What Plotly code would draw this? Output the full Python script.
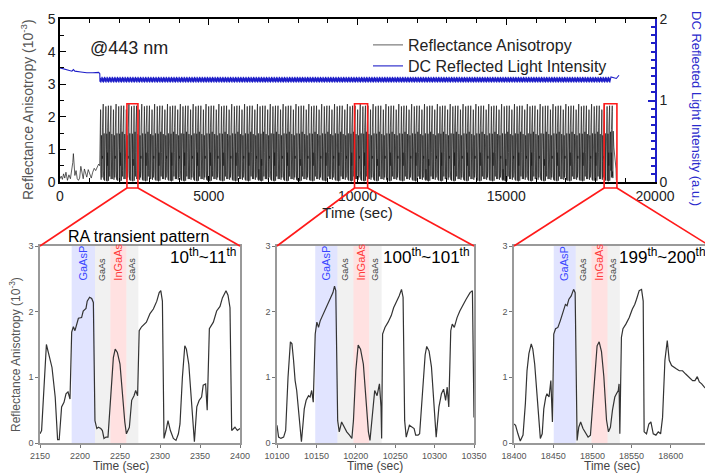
import plotly.graph_objects as go

FONT = 'Liberation Sans, Arial, sans-serif'

# ---- overview: RA before the growth cycles start (sec, 10^-3)
init_t = [0, 40, 80, 120, 160, 200, 250, 300, 350, 400, 430, 450, 470, 500, 540, 580, 620, 660,
          700, 740, 780, 820, 860, 900, 950, 1000, 1050, 1100, 1150, 1200, 1250, 1300, 1335]
init_ra = [0.10, 0.18, 0.08, 0.25, 0.12, 0.30, 0.05, 0.22, 0.10, 0.35, 0.60, 0.87, 0.55, 0.20, 0.35,
           0.10, 0.05, 0.12, 0.48, 0.25, 0.10, 0.40, 0.30, 0.15, 0.38, 0.22, 0.12, 0.30, 0.42, 0.35,
           0.48, 0.55, 0.50]
tail_t = [18665, 18690, 18700]
tail_ra = [0.80, 0.40, 0.05]

# ---- overview: DC reflected light intensity (a.u.)
dc_init_t = [0, 100, 300, 400, 450, 500, 700, 900, 1100, 1300, 1338]
dc_init = [1.40, 1.39, 1.37, 1.36, 1.38, 1.36, 1.35, 1.34, 1.34, 1.345, 1.33]
dc_cycle_frac = [0.0, 0.17, 0.33, 0.5, 0.67, 0.83]
dc_cycle = [1.23, 1.28, 1.22, 1.27, 1.24, 1.29]
dc_tail_t = [18700, 18750, 18790]
dc_tail = [1.27, 1.29, 1.31]

N_CYCLES = 200
FIRST_CYCLE = 1342
LAST_CYCLE = 18535

# ---- zoomed panels: RA transient (sec, 10^-3)
p1_t = [2150, 2152, 2158, 2162, 2165, 2169, 2172, 2174, 2177, 2180, 2182.5, 2185, 2187.5, 2189.6,
        2191.7, 2193.7, 2198, 2202, 2204, 2207.5, 2209, 2212, 2214.6, 2216.7, 2218.7, 2221, 2223,
        2226, 2228, 2230, 2232.5, 2235, 2238, 2241.7, 2244, 2246.7, 2250, 2253, 2256, 2258,
        2261.7, 2264.6, 2267.5, 2269.6, 2272, 2274, 2277, 2283, 2287.5, 2291.7, 2296, 2299, 2301,
        2303, 2305, 2307.5, 2310, 2313, 2316.7, 2320, 2323, 2325, 2328, 2331, 2333, 2336, 2339.6,
        2341.7, 2343, 2346, 2349, 2352, 2354, 2357, 2359, 2361.7, 2366.7, 2370.8, 2375, 2378,
        2382.5, 2385, 2387.5, 2389.6, 2393.7, 2396.7, 2400]
p1_ra = [0.14, 0.19, 1.50, 1.30, 1.15, 0.70, 0.05, 0.05, 0.55, 0.62, 0.75, 0.78, 0.67, 1.69,
         1.77, 1.71, 1.90, 1.91, 2.01, 2.05, 2.16, 2.22, 2.20, 2.14, 0.34, 0.22, 0.24,
         0.22, 0.19, 0.07, 0.09, 0.09, 0.62, 1.30, 1.43, 1.38, 1.20, 0.70, 0.32, 0.14,
         0.24, 0.65, 0.72, 0.80, 0.72, 1.71, 1.77, 1.84, 1.97, 2.04, 2.16, 2.29, 2.32,
         2.16, 0.07, 0.19, 0.34, 0.19, 0.07, 0.04, 0.14, 0.29, 1.00, 1.48, 1.43, 1.20, 0.55,
         0.14, 0.02, 0.55, 0.65, 0.70, 0.88, 0.90, 0.50, 1.74, 1.84, 2.01, 2.08, 2.21,
         2.32, 2.25, 2.06, 0.19, 0.24, 0.19, 0.22]

p2_t = [10100, 10102, 10105, 10108.4, 10111, 10114, 10117, 10119, 10121, 10123, 10125, 10128,
        10131, 10133, 10134.6, 10137, 10140, 10142, 10144, 10146, 10148.5, 10150.6, 10152.7,
        10154.8, 10158, 10161, 10164, 10167.5, 10171, 10173, 10174.6, 10177, 10179, 10182,
        10185, 10188.5, 10192, 10195, 10197, 10200, 10203, 10206, 10209.6, 10213, 10216, 10218,
        10221, 10224, 10227, 10230, 10232, 10232.8, 10234, 10237, 10241, 10245, 10248, 10252,
        10255, 10258, 10260, 10262, 10264, 10268, 10271, 10274, 10276, 10279, 10281, 10284,
        10288, 10290, 10293, 10296, 10299, 10302, 10305.5, 10308.7, 10311.4, 10314, 10316,
        10318, 10320.5, 10322.4, 10325, 10328.5, 10332, 10336, 10340, 10345, 10348, 10350]
p2_ra = [0.27, 0.09, 0.07, 0.09, 0.19, 1.00, 1.54, 1.51, 1.26, 0.95, 0.80, 0.45,
         0.02, 0.29, 0.52, 0.65, 0.72, 0.70, 0.80, 0.62, 1.66, 1.84, 1.76,
         1.86, 1.94, 2.04, 2.11, 2.19, 2.29, 2.39, 2.32, 0.34, 0.17, 0.32,
         0.24, 0.17, 0.12, 0.07, 0.34, 1.10, 1.49, 1.43, 1.20, 0.59, 0.17, 0.04,
         0.39, 0.80, 0.72, 0.90, 0.55, 0.07, 1.66, 1.76, 1.84, 1.94, 2.06, 2.16,
         2.24, 2.34, 2.22, 0.34, 0.09, 0.27, 0.24, 0.22, 0.12, 0.12, 0.14, 0.70,
         1.34, 1.47, 1.40, 1.16, 0.55, 0.09, 0.55, 0.75, 0.82, 0.65, 0.85,
         0.55, 1.71, 1.81, 1.76, 1.91, 2.01, 2.11, 2.19, 2.29, 2.32, 0.39]

p3_t = [18400, 18402, 18405, 18408, 18411.5, 18414.5, 18416.6, 18419, 18422, 18424, 18426.4,
        18428.5, 18430.7, 18433.6, 18436, 18438, 18440.5, 18442, 18444.7, 18447, 18449, 18450.7,
        18453, 18456, 18459, 18462.6, 18465.6, 18467.7, 18470, 18473, 18476, 18478, 18480.5,
        18482.6, 18485, 18488, 18491.6, 18494.5, 18497.5, 18500, 18503, 18506, 18508.6, 18511.6,
        18514.6, 18518, 18520.5, 18523, 18525.6, 18528.6, 18530.7, 18533, 18534, 18535, 18537,
        18539, 18542.7, 18547, 18551, 18554, 18556.3, 18559.7, 18562.7, 18564.8, 18566, 18569,
        18572, 18574.6, 18577.6, 18581, 18584, 18587, 18589.5, 18592.5, 18595.5, 18598, 18601,
        18604, 18607, 18610.8, 18615, 18619, 18623.6, 18627.8, 18630.8, 18633.8, 18636.4,
        18639.4, 18642.8, 18645.7, 18650]
p3_ra = [0.29, 0.27, 0.14, 0.03, 0.12, 0.60, 1.10, 1.36, 1.51, 1.43, 1.20,
         0.85, 0.55, 0.07, 0.14, 0.52, 0.70, 0.75, 0.70, 0.95, 0.32, 1.66,
         1.74, 1.76, 1.86, 2.01, 2.11, 2.09, 2.19, 2.24, 2.34, 2.29, 0.04,
         0.24, 0.32, 0.22, 0.14, 0.09, 0.12, 0.55, 1.10, 1.48, 1.54, 1.39,
         1.01, 0.35, 0.17, 0.24, 0.50, 0.70, 0.75, 0.80, 0.90, 0.14, 1.61,
         1.74, 1.81, 1.91, 2.04, 2.11, 2.19, 2.32, 2.34, 2.16, 0.17, 0.14,
         0.29, 0.32, 0.14, 0.12, 0.17, 0.14, 0.39, 1.26, 1.56, 1.26, 1.18,
         1.16, 1.13, 1.10, 1.10, 1.05, 1.00, 0.95, 0.95, 1.01, 0.93,
         0.90, 0.85, 0.82, 0.87]

# cycle onsets read in each zoomed panel
p1_onsets = [2189.6, 2274, 2361.7]
p2_onsets = [10148.5, 10234, 10320.5]
p3_onsets = [18450.7, 18535]

# layer windows (GaAsP, GaAs, InGaAs, GaAs) per panel
zoom_ranges = [(2150, 2400), (10100, 10350), (18400, 18650)]
box_ranges = [(2250, 2620), (9900, 10340), (18290, 18720)]
layer_names = ['GaAsP', 'GaAs', 'InGaAs', 'GaAs']
layer_fill = ['rgba(120,130,255,0.22)', 'rgba(200,200,200,0.25)', 'rgba(255,120,120,0.22)', 'rgba(200,200,200,0.25)']
layer_text = ['#3a46ff', '#444444', '#ff3b3b', '#444444']
layer_size = [11, 9, 11, 9]
layers = [
    [2189.6, 2218.7, 2238, 2258, 2273],
    [10148.5, 10176.7, 10197, 10217, 10232.8],
    [18450.7, 18478.8, 18498.8, 18519.3, 18535],
]
cycle_labels = ['10<sup>th</sup>~11<sup>th</sup>', '100<sup>th</sup>~101<sup>th</sup>',
                '199<sup>th</sup>~200<sup>th</sup>']


def cut(t, v, start, end):
    return [(a - start, b) for a, b in zip(t, v) if start <= a < end]


# build the overview series from the measured cycles
templates = [
    cut(p1_t, p1_ra, p1_onsets[0], p1_onsets[1]),
    cut(p2_t, p2_ra, p2_onsets[0], p2_onsets[1]),
    cut(p1_t, p1_ra, p1_onsets[1], p1_onsets[2]),
    cut(p3_t, p3_ra, p3_onsets[0], p3_onsets[1]),
    cut(p2_t, p2_ra, p2_onsets[1], p2_onsets[2]),
]
period = (LAST_CYCLE - FIRST_CYCLE) / (N_CYCLES - 1)

ra_t, ra_v = list(init_t), list(init_ra)
dc_t, dc_v = list(dc_init_t), list(dc_init)
for k in range(N_CYCLES - 1):
    start = FIRST_CYCLE + k * period
    for rel, val in templates[k % len(templates)]:
        if rel < period:
            ra_t.append(start + rel)
            ra_v.append(val)
    for frac, val in zip(dc_cycle_frac, dc_cycle):
        dc_t.append(start + frac * period)
        dc_v.append(val)
for rel, val in cut(p3_t, p3_ra, p3_onsets[1], 99999):
    ra_t.append(LAST_CYCLE + rel)
    ra_v.append(val)
ra_t += tail_t
ra_v += tail_ra
dc_t += dc_tail_t
dc_v += dc_tail


# the page puts the figure 8px in from the window corner; work in window pixels
def px(x):
    return (x - 8) / 713


def py(y):
    return 1 - (y - 8) / 473


TOP_X = [px(60), px(655)]
TOP_Y = [py(182), py(19)]
BOT_Y = [py(443), py(246)]
PANEL_X = [[px(40), px(240)], [px(277), px(474)], [px(514), px(710)]]

fig = go.Figure()

fig.add_trace(go.Scatter(x=ra_t, y=ra_v, mode='lines', name='Reflectance Anisotropy',
                         line=dict(color='#1a1a1a', width=0.7), xaxis='x', yaxis='y', legend='legend'))
fig.add_trace(go.Scatter(x=dc_t, y=dc_v, mode='lines', name='DC Reflected Light Intensity',
                         line=dict(color='#1e1ec8', width=1.1), xaxis='x', yaxis='y2', legend='legend2'))

panels = [(p1_t, p1_ra), (p2_t, p2_ra), (p3_t, p3_ra)]
for i, (t, v) in enumerate(panels):
    fig.add_trace(go.Scatter(x=t, y=v, mode='lines', showlegend=False,
                             line=dict(color='#333333', width=1.2),
                             xaxis='x%d' % (i + 2), yaxis='y%d' % (i + 3)))

tick_font = dict(family=FONT, size=14, color='#222')
legend_style = dict(xanchor='left', yanchor='middle', bgcolor='rgba(0,0,0,0)',
                    font=dict(family=FONT, size=16, color='#222'), itemwidth=30)
fig.update_layout(
    width=713, height=473,
    margin=dict(l=0, r=0, t=0, b=0),
    paper_bgcolor='white', plot_bgcolor='white',
    font=dict(family=FONT),
    showlegend=True,
    legend=dict(x=px(368), y=py(45), **legend_style),
    legend2=dict(x=px(368), y=py(66), **legend_style),
    xaxis=dict(domain=TOP_X, range=[0, 20000], dtick=5000, tickformat='d', tickfont=tick_font,
               showline=True, linecolor='black', linewidth=1.5, mirror='ticks',
               ticks='inside', ticklen=6, tickcolor='black', automargin=False,
               minor=dict(dtick=1000, ticks='inside', ticklen=4, tickcolor='black'),
               showgrid=False, zeroline=False, anchor='y',
               title=dict(text='Time (sec)', font=dict(family=FONT, size=15, color='#222'), standoff=0)),
    yaxis=dict(domain=TOP_Y, range=[0, 5], dtick=1, tickfont=tick_font, automargin=False,
               showline=True, linecolor='black', linewidth=1.5, mirror=True,
               ticks='inside', ticklen=6, tickcolor='black',
               minor=dict(dtick=0.5, ticks='inside', ticklen=4, tickcolor='black'),
               showgrid=False, zeroline=False, anchor='x'),
    yaxis2=dict(overlaying='y', side='right', anchor='x', range=[0, 2], dtick=1,
                tickfont=tick_font, showline=True, linecolor='#1e1ec8', linewidth=1.5,
                ticks='inside', ticklen=7, tickcolor='#1e1ec8', tickwidth=1.5, automargin=False,
                minor=dict(dtick=0.1, ticks='inside', ticklen=4, tickcolor='#1e1ec8', tickwidth=1.5),
                showgrid=False, zeroline=False),
)

small_font = dict(family=FONT, size=9, color='#555')
for i in range(3):
    xa = 'xaxis%d' % (i + 2)
    ya = 'yaxis%d' % (i + 3)
    fig.layout[xa] = dict(domain=PANEL_X[i], range=list(zoom_ranges[i]), dtick=50, tickformat='d',
                          tickfont=small_font, showline=True, linecolor='#999', linewidth=1.5,
                          mirror=True, ticks='outside', ticklen=3, tickcolor='#777',
                          showgrid=False, zeroline=False, anchor='y%d' % (i + 3), automargin=False)
    fig.layout[ya] = dict(domain=BOT_Y, range=[0, 3], dtick=1, tickfont=small_font,
                          showline=True, linecolor='#999', linewidth=1.5, mirror=True,
                          ticks='outside', ticklen=3, tickcolor='#777', automargin=False,
                          showgrid=False, zeroline=False, anchor='x%d' % (i + 2))

# bottom "Time (sec)" labels (window px centres as in the reference)
time_label_x = [121, 375, 612]
for xc in time_label_x:
    fig.add_annotation(x=px(xc), y=py(466), xref='paper', yref='paper', text='Time (sec)',
                       showarrow=False, xanchor='center', yanchor='middle',
                       font=dict(family=FONT, size=12, color='#444'))


def top_px(v):
    return TOP_X[0] + v / 20000 * (TOP_X[1] - TOP_X[0])


def top_py(v):
    return TOP_Y[0] + v / 5 * (TOP_Y[1] - TOP_Y[0])


box_bottom = py(188)
red = dict(color='#ff1a1a', width=1.6)
for i in range(3):
    b0, b1 = box_ranges[i]
    fig.add_shape(type='rect', xref='x', yref='paper', x0=b0, x1=b1,
                  y0=box_bottom, y1=top_py(2.4), line=red, layer='above')
    fig.add_shape(type='line', xref='paper', yref='paper', x0=top_px(b0), y0=box_bottom,
                  x1=PANEL_X[i][0], y1=BOT_Y[1], line=red)
    fig.add_shape(type='line', xref='paper', yref='paper', x0=top_px(b1), y0=box_bottom,
                  x1=PANEL_X[i][1], y1=BOT_Y[1], line=red)

    edges = layers[i]
    for j in range(4):
        fig.add_shape(type='rect', xref='x%d' % (i + 2), yref='y%d domain' % (i + 3),
                      x0=edges[j], x1=edges[j + 1], y0=0, y1=1,
                      fillcolor=layer_fill[j], line=dict(width=0), layer='below')
        fig.add_annotation(x=(edges[j] + edges[j + 1]) / 2, y=2.44,
                           xref='x%d' % (i + 2), yref='y%d' % (i + 3),
                           text=layer_names[j], textangle=-90, showarrow=False,
                           xanchor='center', yanchor='bottom',
                           font=dict(family=FONT, size=layer_size[j], color=layer_text[j]))
    fig.add_annotation(x=zoom_ranges[i][1], y=2.85, xref='x%d' % (i + 2), yref='y%d' % (i + 3),
                       text=cycle_labels[i], showarrow=False, xanchor='right', yanchor='middle',
                       xshift=-2, font=dict(family=FONT, size=17, color='black'))

# text labels
fig.add_annotation(x=px(88), y=py(48), xref='paper', yref='paper', text='@443 nm',
                   showarrow=False, xanchor='left', yanchor='middle',
                   font=dict(family=FONT, size=18, color='#222'))
fig.add_annotation(x=px(27), y=py(110), xref='paper', yref='paper',
                   text='Reflectance Anisotropy (10<sup>-3</sup>)', textangle=-90, showarrow=False,
                   xanchor='center', yanchor='middle', font=dict(family=FONT, size=14, color='#555'))
fig.add_annotation(x=px(696), y=py(108), xref='paper', yref='paper',
                   text='DC Reflected Light Intensity (a.u.)', textangle=90, showarrow=False,
                   xanchor='center', yanchor='middle', font=dict(family=FONT, size=13, color='#2a2acc'))
fig.add_annotation(x=px(138), y=py(237), xref='paper', yref='paper',
                   text='RA transient pattern', showarrow=False, xanchor='center', yanchor='middle',
                   font=dict(family=FONT, size=16, color='black'))
fig.add_annotation(x=px(15), y=py(355), xref='paper', yref='paper',
                   text='Reflectance Anisotropy (10<sup>-3</sup>)', textangle=-90, showarrow=False,
                   xanchor='center', yanchor='middle', font=dict(family=FONT, size=12, color='#555'))

fig.write_html('out.html')
